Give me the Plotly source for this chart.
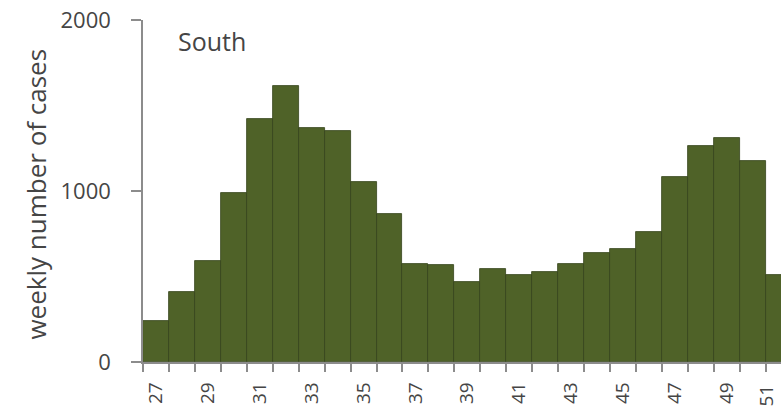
import plotly.graph_objects as go

# Weekly cases, South region (weeks 27-51)
weeks = list(range(27, 52))
cases = [237, 410, 590, 990, 1420, 1613, 1369, 1349, 1055, 865,
         576, 566, 466, 541, 508, 528, 571, 639, 663, 761,
         1080, 1266, 1310, 1175, 506]
tick_weeks = list(range(27, 52, 2))
tick_labels = [str(w) for w in tick_weeks]
y_ticks = [0, 1000, 2000]

bar_color = "#4f6228"
axis_grey = "#8c8c8c"
text_grey = "#454545"
font_family = "Open Sans, Lato, sans-serif"

fig = go.Figure()

fig.add_trace(go.Bar(
    x=weeks,
    y=cases,
    width=1,
    marker_color=bar_color,
    marker_line=dict(color="#34441a", width=0.8),
    showlegend=False
))

# Panel label
fig.add_annotation(
    text="South",
    xref="paper", yref="paper",
    x=0.052, y=0.938,
    xanchor="left", yanchor="middle",
    showarrow=False,
    font=dict(family=font_family, size=25, color=text_grey)
)

# Y axis title placed by hand
fig.add_annotation(
    text="weekly number of cases",
    xref="paper", yref="paper",
    x=-0.168, y=0.492,
    xanchor="center", yanchor="middle",
    textangle=-90,
    showarrow=False,
    font=dict(family=font_family, size=26, color=text_grey)
)

# last week label sits on the right edge; plotly drops it as a tick, so pin it to the edge
fig.add_annotation(
    text=tick_labels[-1],
    xref="paper", yref="paper",
    x=1.0, y=-0.06,
    xanchor="right", yanchor="top",
    textangle=-90,
    showarrow=False,
    font=dict(family=font_family, size=19, color=text_grey)
)

fig.update_layout(
    width=781,
    height=413,
    margin=dict(l=143, r=0, t=20, b=51),
    paper_bgcolor="white",
    plot_bgcolor="white",
    bargap=0,
    font=dict(family=font_family, color=text_grey),
    xaxis=dict(
        range=[26.5, 51.09],
        tickmode="array",
        tickvals=tick_weeks,
        ticktext=tick_labels,
        tickangle=-90,
        ticks="",
        tickfont=dict(size=19, color=text_grey),
        showline=True,
        linecolor=axis_grey,
        linewidth=1.5,
        showgrid=False,
        zeroline=False,
        ticklabelstandoff=11,
        minor=dict(tick0=26.5, dtick=1, ticks="outside", ticklen=8,
                   tickcolor=axis_grey, tickwidth=1.5, showgrid=False),
    ),
    yaxis=dict(
        range=[0, 2000],
        tickmode="array",
        tickvals=y_ticks,
        ticks="outside",
        ticklen=10,
        tickcolor=axis_grey,
        tickwidth=1.5,
        tickfont=dict(size=22, color=text_grey),
        ticklabelstandoff=16,
        showline=True,
        linecolor=axis_grey,
        linewidth=1.5,
        showgrid=False,
        zeroline=False,
    ),
)

# drop the default page margin so the figure fills the window
fig.write_html("out.html",
               config={"displayModeBar": False},
               post_script="document.body.style.margin='0';document.body.style.overflow='hidden';")
